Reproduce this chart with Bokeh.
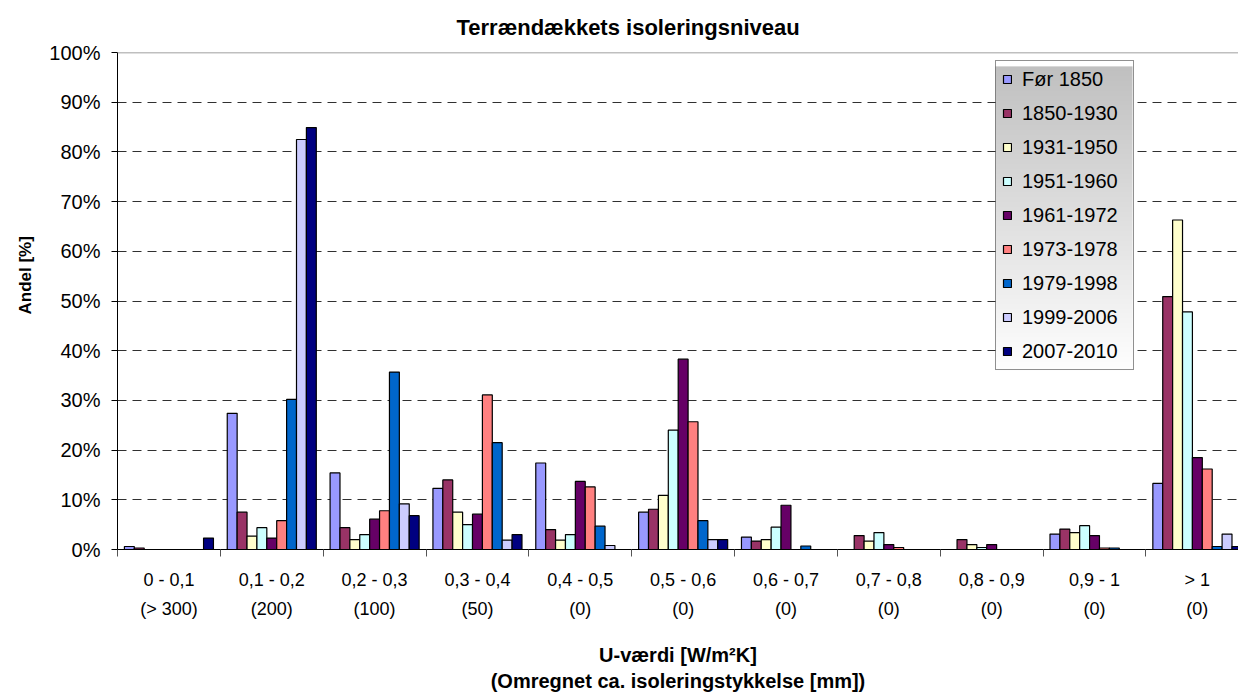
import numpy as np
from bokeh.plotting import figure
from bokeh.models import (Range1d, FixedTicker, PrintfTickFormatter, Legend, LegendItem,
                          Span, Title)
from bokeh.embed import file_html
from bokeh.resources import INLINE

# ---------------- data ----------------
categories = ["0 - 0,1", "0,1 - 0,2", "0,2 - 0,3", "0,3 - 0,4", "0,4 - 0,5", "0,5 - 0,6",
              "0,6 - 0,7", "0,7 - 0,8", "0,8 - 0,9", "0,9 - 1", "> 1"]
thickness = ["(> 300)", "(200)", "(100)", "(50)", "(0)", "(0)", "(0)", "(0)", "(0)", "(0)", "(0)"]

series_names = ["Før 1850", "1850-1930", "1931-1950", "1951-1960", "1961-1972",
                "1973-1978", "1979-1998", "1999-2006", "2007-2010"]
colors = ["#9999FF", "#993366", "#FFFFCC", "#CCFFFF", "#660066",
          "#FF8080", "#0066CC", "#CCCCFF", "#000080"]

foer_1850 = [0.6, 27.4, 15.4, 12.3, 17.4, 7.5, 2.5, 0.0, 0.0, 3.1, 13.3]
y1850_1930 = [0.3, 7.5, 4.4, 14.0, 4.0, 8.1, 1.7, 2.8, 2.0, 4.1, 50.9]
y1931_1950 = [0.0, 2.7, 2.0, 7.5, 1.9, 10.9, 2.0, 1.7, 1.0, 3.4, 66.3]
y1951_1960 = [0.0, 4.4, 3.0, 5.0, 3.0, 24.0, 4.5, 3.4, 0.4, 4.8, 47.8]
y1961_1972 = [0.0, 2.3, 6.1, 7.1, 13.7, 38.3, 8.9, 1.0, 1.0, 2.8, 18.5]
y1973_1978 = [0.0, 5.8, 7.8, 31.1, 12.6, 25.7, 0.0, 0.4, 0.0, 0.3, 16.2]
y1979_1998 = [0.0, 30.2, 35.7, 21.5, 4.7, 5.8, 0.7, 0.0, 0.0, 0.3, 0.6]
y1999_2006 = [0.0, 82.5, 9.2, 1.9, 0.8, 2.0, 0.0, 0.0, 0.0, 0.0, 3.1]
y2007_2010 = [2.3, 84.9, 6.8, 3.0, 0.0, 2.0, 0.0, 0.0, 0.0, 0.0, 0.6]

series_values = [foer_1850, y1850_1930, y1931_1950, y1951_1960, y1961_1972,
                 y1973_1978, y1979_1998, y1999_2006, y2007_2010]

y_ticks = [0, 10, 20, 30, 40, 50, 60, 70, 80, 90, 100]

# ---------------- layout constants ----------------
FONT = "Liberation Sans"
W, H = 1238, 694
B_LEFT, B_TOP, B_BOTTOM = 117, 50, 143
X_END, Y_END = 10.9, 100
FRAME_W = W - B_LEFT
FRAME_H = H - B_TOP - B_BOTTOM

n = len(categories)
p = figure(width=W, height=H, output_backend="svg", toolbar_location=None,
           x_range=Range1d(0, X_END), y_range=Range1d(0, Y_END),
           min_border_left=B_LEFT, min_border_right=0, min_border_top=B_TOP,
           min_border_bottom=B_BOTTOM)
p.outline_line_color = None
p.background_fill_color = "white"

# ---------------- legend geometry (pixels inside the frame) ----------------
LEG_X, LEG_Y = 878, 179          # bottom-left corner
LEG_PAD, LEG_ITEM_H, LEG_SPACING = 6, 24, 10
LEG_GLYPH, LEG_STANDOFF, LEG_LABEL_W = 10, 10, 105
LEG_W = 2 * LEG_PAD + LEG_GLYPH + LEG_STANDOFF + LEG_LABEL_W
LEG_H = 2 * LEG_PAD + len(series_names) * LEG_ITEM_H + (len(series_names) - 1) * LEG_SPACING

# gradient background for the legend box (grey at top -> white at bottom)
ppx = FRAME_W / X_END
ppy = FRAME_H / Y_END
rows = LEG_H
img = np.empty((rows, 1), dtype=np.uint32)
view = img.view(dtype=np.uint8).reshape((rows, 1, 4))
shade = np.linspace(255, 192, rows).astype(np.uint8)   # row 0 = bottom
view[:, 0, 0] = shade
view[:, 0, 1] = shade
view[:, 0, 2] = shade
view[:, 0, 3] = 255
p.image_rgba(image=[img], x=LEG_X / ppx, y=LEG_Y / ppy, dw=LEG_W / ppx, dh=LEG_H / ppy)

# ---------------- bars ----------------
bar_w = 0.0962
renderers = []
for j, vals in enumerate(series_values):
    xs = [i + 0.5 + (j - 4) * bar_w for i in range(n)]
    r = p.vbar(x=xs, top=vals, bottom=0, width=bar_w, fill_color=colors[j],
               line_color="black", line_width=1.2)
    renderers.append(r)

# top border of plot area
p.add_layout(Span(location=Y_END, dimension="width", line_color="#808080", line_width=1.5))

# grid
p.xgrid.visible = False
p.ygrid.ticker = FixedTicker(ticks=y_ticks[1:])
p.ygrid.grid_line_color = "#303030"
p.ygrid.grid_line_dash = "9 6"
p.ygrid.grid_line_width = 1

# y axis
ya = p.yaxis[0]
ya.ticker = FixedTicker(ticks=y_ticks)
ya.formatter = PrintfTickFormatter(format="%d%%")
ya.major_tick_out = 6
ya.major_tick_in = 0
ya.minor_tick_out = 0
ya.minor_tick_in = 0
ya.axis_line_color = "black"
ya.major_tick_line_color = "black"
ya.major_label_text_font = FONT
ya.major_label_text_font_size = "20px"
ya.major_label_text_color = "black"
ya.major_label_standoff = 11

# y label as a side title (placed off-centre like the reference)
ylab = Title(text="Andel [%]", align="left", offset=235,
             text_font=FONT, text_font_size="17px", text_font_style="bold",
             text_color="black", standoff=24)
p.add_layout(ylab, "left")

# x axis
xa = p.xaxis[0]
centers = [i + 0.5 for i in range(n)]
bounds = [float(i) for i in range(n + 1)]
xa.ticker = FixedTicker(ticks=centers, minor_ticks=bounds)
xa.major_label_overrides = {c: f"{cat}\n{th}" for c, cat, th in zip(centers, categories, thickness)}
xa.major_tick_out = 0
xa.major_tick_in = 0
xa.minor_tick_out = 7
xa.minor_tick_in = 0
xa.minor_tick_line_color = "#555555"
xa.axis_line_color = "black"
xa.major_label_text_font = FONT
xa.major_label_text_font_size = "18px"
xa.major_label_text_color = "black"
xa.major_label_text_line_height = 1.45
xa.major_label_standoff = 13
xa.axis_label = "U-værdi [W/m²K]\n(Omregnet ca. isoleringstykkelse [mm])"
xa.axis_label_text_font = FONT
xa.axis_label_text_font_size = "20px"
xa.axis_label_text_font_style = "bold"
xa.axis_label_text_color = "black"
xa.axis_label_text_line_height = 1.2
xa.axis_label_standoff = 22

# title
title = Title(text="Terrændækkets isoleringsniveau", align="left", offset=339,
              text_font=FONT, text_font_size="22px", text_font_style="bold",
              text_color="black", standoff=25)
p.add_layout(title, "above")

# legend
legend = Legend(items=[LegendItem(label=nm, renderers=[r]) for nm, r in zip(series_names, renderers)],
                location=(LEG_X, LEG_Y), orientation="vertical")
legend.margin = 0
legend.padding = LEG_PAD
legend.spacing = LEG_SPACING
legend.glyph_width = LEG_GLYPH
legend.glyph_height = LEG_GLYPH
legend.label_height = LEG_ITEM_H
legend.label_width = LEG_LABEL_W
legend.label_standoff = LEG_STANDOFF
legend.label_text_font = FONT
legend.label_text_font_size = "20px"
legend.label_text_color = "black"
legend.background_fill_alpha = 0.0
legend.border_line_color = "#222222"
legend.border_line_width = 1
p.add_layout(legend)

open("out.html", "w").write(file_html(p, INLINE))
